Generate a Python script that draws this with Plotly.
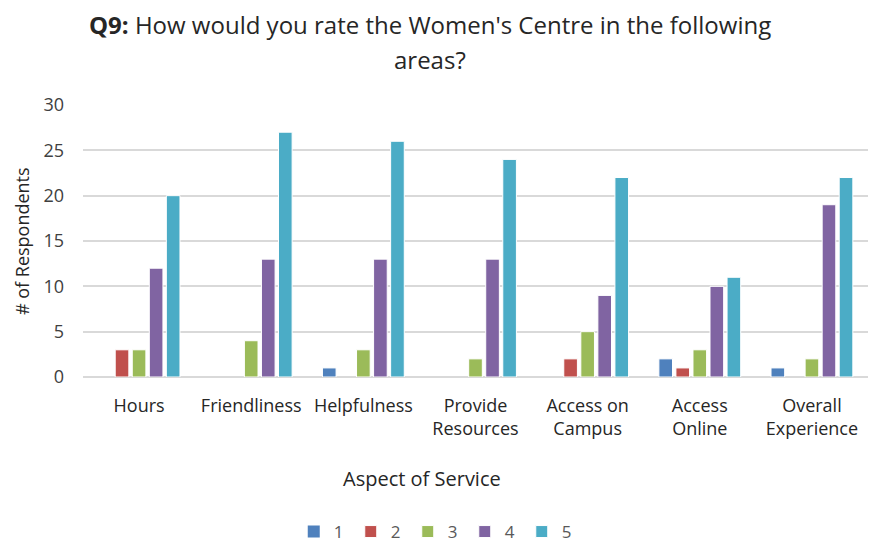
import plotly.graph_objects as go

categories = ["Hours", "Friendliness", "Helpfulness", "Provide<br>Resources",
              "Access on<br>Campus", "Access<br>Online", "Overall<br>Experience"]
ratings = ["1", "2", "3", "4", "5"]
rating_1 = [0, 0, 1, 0, 0, 2, 1]
rating_2 = [3, 0, 0, 0, 2, 1, 0]
rating_3 = [3, 4, 3, 2, 5, 3, 2]
rating_4 = [12, 13, 13, 13, 9, 10, 19]
rating_5 = [20, 27, 26, 24, 22, 11, 22]
colors = ["#4F81BD", "#C0504D", "#9BBB59", "#8064A2", "#4BACC6"]

font_family = "Open Sans, Liberation Sans, sans-serif"
text_color = "#404040"

fig = go.Figure()
for name, vals, col in zip(ratings, [rating_1, rating_2, rating_3, rating_4, rating_5], colors):
    fig.add_trace(go.Bar(
        x=categories, y=vals, name=name,
        # no outline on empty bars so the baseline stays unbroken
        marker=dict(color=col, line=dict(color="white", width=[1 if v else 0 for v in vals])),
    ))

# two-line chart title, placed line by line
title_font = dict(family=font_family, size=24, color="#262626")
fig.add_annotation(
    text="<b>Q9:</b> How would you rate the Women's Centre in the following",
    xref="paper", yref="paper", x=0.442, y=1.0 + (105 - 25) / 272,
    xanchor="center", yanchor="middle", showarrow=False, font=title_font,
)
fig.add_annotation(
    text="areas?",
    xref="paper", yref="paper", x=0.442, y=1.0 + (105 - 60) / 272,
    xanchor="center", yanchor="middle", showarrow=False, font=title_font,
)
# x-axis title
fig.add_annotation(
    text="Aspect of Service",
    xref="paper", yref="paper", x=0.432, y=-(478 - 377) / 272,
    xanchor="center", yanchor="middle", showarrow=False,
    font=dict(family=font_family, size=20, color="#262626"),
)
# y-axis title
fig.add_annotation(
    text="# of Respondents",
    xref="paper", yref="paper", x=-(83 - 22) / 786, y=0.5,
    xanchor="center", yanchor="middle", showarrow=False, textangle=-90,
    font=dict(family=font_family, size=18, color="#262626"),
)

fig.update_layout(
    width=869, height=545,
    paper_bgcolor="white", plot_bgcolor="white",
    margin=dict(l=83, r=1, t=105, b=168, autoexpand=False),
    barmode="group", bargap=0.24, bargroupgap=0.2,
    font=dict(family=font_family, size=17, color=text_color),
    xaxis=dict(
        showgrid=False, showline=False, ticks="", automargin=False,
        ticklabelstandoff=16, tickangle=0,
        tickfont=dict(size=18, color="#262626"),
    ),
    yaxis=dict(
        range=[0, 30], dtick=5, showgrid=True, gridcolor="#d9d9d9", gridwidth=1.5,
        zeroline=True, zerolinecolor="#d9d9d9", zerolinewidth=1.5,
        showline=False, ticks="", ticklabelstandoff=18, automargin=False,
        tickfont=dict(size=18, color=text_color),
    ),
    legend=dict(
        orientation="h", x=0.45, xanchor="center", y=-(532 - 377) / 272, yanchor="middle",
        font=dict(size=17, color="#595959"),
        itemwidth=30, entrywidth=12, entrywidthmode="pixels",
        traceorder="normal", tracegroupgap=0,
    ),
)

fig.write_html("out.html")
